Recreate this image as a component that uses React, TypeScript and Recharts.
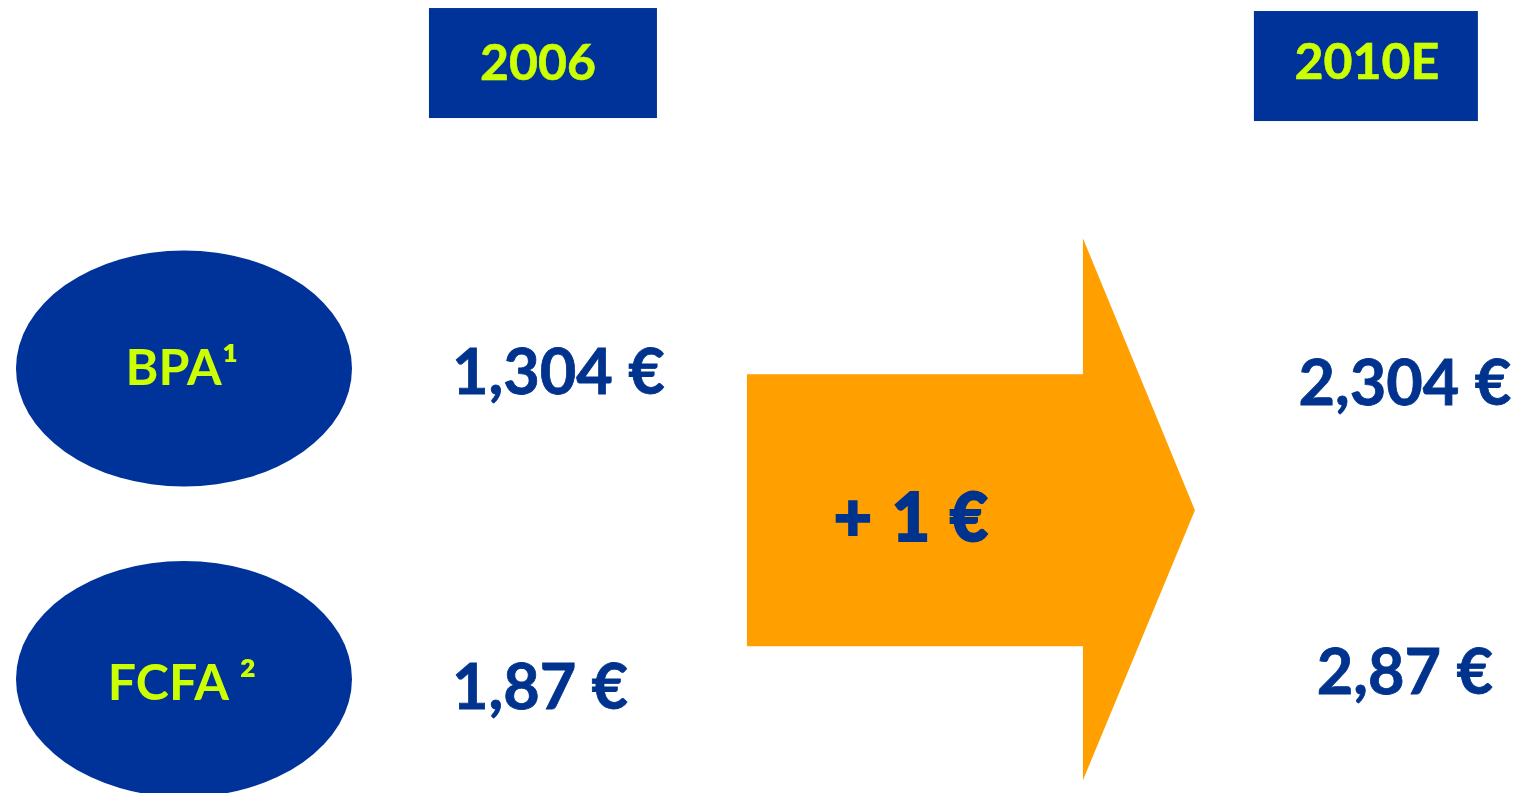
import { Scatter, ScatterChart, XAxis, YAxis } from "recharts";

// columns of the slide, left to right
const columns = ["metric", "2006", "delta", "2010E"];
const years = ["2006", "2010E"];
const metrics = ["BPA¹", "FCFA ²"];
const values2006 = [1.304, 1.87];
const values2010 = [2.304, 2.87];
const increase = 1;

const NAVY = "#003399";
const INK = "#00338d";
const LIME = "#ccff00";
const ORANGE = "#ffa000";
const FONT = "Lato, 'Noto Sans', sans-serif";

const W = 1516;
const H = 793;

const fmt = (v: number) => `${String(v).replace(".", ",")} €`;
const col = (c: string) => columns.indexOf(c);

const headerData = years.map((y) => ({ x: col(y), y: 0, label: y }));
const metricData = metrics.map((m, i) => ({ x: col("metric"), y: i + 1, label: m, row: i }));
const valueData = [
  ...values2006.map((v, i) => ({ x: col("2006"), y: i + 1, label: fmt(v), year: "2006", row: i })),
  ...values2010.map((v, i) => ({ x: col("2010E"), y: i + 1, label: fmt(v), year: "2010E", row: i })),
];
// the arrow spans both metric rows
const arrowData = [{ x: col("delta"), y: (1 + metrics.length) / 2, label: `+ ${increase} €` }];

// small per-cell nudges (layout only)
const headerBox: Record<string, { left: number; w: number; top: number; tx: number; ty: number }> = {
  "2006": { left: -149, w: 228, top: -55, tx: -40, ty: 17 },
  "2010E": { left: -112, w: 224, top: -52, tx: 1, ty: 16 },
};
const metricText = [14, 22];
const metricShift = [-2, 1];
const valueText: Record<string, { dx: number; anchor: "start" | "middle"; ty: number[] }> = {
  "2006": { dx: -126, anchor: "start", ty: [23, 31] },
  "2010E": { dx: 39, anchor: "middle", ty: [34, 16] },
};

const HeaderShape = (p: any) => {
  const b = headerBox[p.payload.label];
  return (
    <g>
      <rect x={p.cx + b.left} y={p.cy + b.top} width={b.w} height={110} fill={NAVY} />
      <text x={p.cx + b.tx} y={p.cy + b.ty} textAnchor="middle" fill={LIME} stroke={LIME} strokeWidth={0.6} fontFamily={FONT} fontWeight={700} fontSize={50}>
        {p.payload.label}
      </text>
    </g>
  );
};

const MetricShape = (p: any) => (
  <g>
    <ellipse cx={p.cx} cy={p.cy + metricShift[p.payload.row]} rx={168} ry={118} fill={NAVY} />
    <text x={p.cx - 2} y={p.cy + metricText[p.payload.row]} textAnchor="middle" fill={LIME} fontFamily={FONT} fontWeight={700} fontSize={50}>
      {p.payload.label}
    </text>
  </g>
);

const ValueShape = (p: any) => {
  const t = valueText[p.payload.year];
  return (
    <text x={p.cx + t.dx} y={p.cy + t.ty[p.payload.row]} textAnchor={t.anchor} fill={INK} stroke={INK} strokeWidth={0.8} fontFamily={FONT} fontWeight={700} fontSize={63}>
      {p.payload.label}
    </text>
  );
};

const ArrowShape = (p: any) => {
  const x = p.cx;
  const y = p.cy - 14;
  const pts = [
    [x - 225, y - 136],
    [x + 111, y - 136],
    [x + 111, y - 272],
    [x + 223, y],
    [x + 111, y + 270],
    [x + 111, y + 136],
    [x - 225, y + 136],
  ]
    .map((q) => q.join(","))
    .join(" ");
  return (
    <g>
      <polygon points={pts} fill={ORANGE} />
      <text x={x - 60} y={p.cy + 17} textAnchor="middle" fill={INK} stroke={INK} strokeWidth={2} fontFamily={FONT} fontWeight={900} fontSize={66} letterSpacing={2} style={{ whiteSpace: "pre" }}>
        {p.payload.label}
      </text>
    </g>
  );
};

export default function App() {
  return (
    <div style={{ position: "absolute", left: 0, top: 0, width: W, height: H, background: "#fff" }}>
      <ScatterChart width={W} height={H} margin={{ top: 0, right: 0, bottom: 0, left: 0 }}>
        <XAxis type="number" dataKey="x" domain={[-0.467, 3.381]} allowDataOverflow hide />
        <YAxis type="number" dataKey="y" domain={[-0.205, 2.374]} allowDataOverflow reversed hide />
        <Scatter data={arrowData} shape={ArrowShape} isAnimationActive={false} />
        <Scatter data={headerData} shape={HeaderShape} isAnimationActive={false} />
        <Scatter data={metricData} shape={MetricShape} isAnimationActive={false} />
        <Scatter data={valueData} shape={ValueShape} isAnimationActive={false} />
      </ScatterChart>
    </div>
  );
}
